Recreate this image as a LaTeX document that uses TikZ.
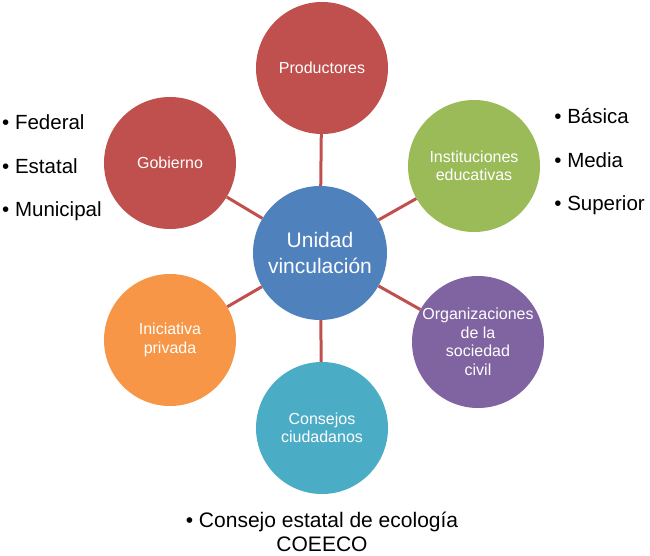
\documentclass[tikz,border=0pt]{standalone}
\usepackage{fontspec}
\setmainfont{Liberation Sans}
\usetikzlibrary{positioning, calc}
\definecolor{rojo}    {HTML}{C0504D}
\definecolor{verde}   {HTML}{9BBB59}
\definecolor{azul}    {HTML}{4F81BD}
\definecolor{morado}  {HTML}{8064A2}
\definecolor{turquesa}{HTML}{4BACC6}
\definecolor{naranja} {HTML}{F79646}

\begin{document}
\begin{tikzpicture}[x=1pt, y=-1pt,
    bubble/.style={circle, minimum size=132pt, inner sep=0pt, text=white, align=center,
      font=\fontsize{16}{18.5}\selectfont},
    spoke/.style={draw=rojo, line width=3pt},
    lista/.style={align=left, inner sep=0pt, font=\fontsize{20.5}{43.5}\selectfont}]
  \useasboundingbox (0,0) rectangle (650,556);
  \node[bubble, fill=azul, minimum size=134pt, font=\fontsize{21}{26}\selectfont] (uv) at (320,253) {Unidad\\vinculación};
  \node[bubble, fill=rojo] (prod) at (322,68) {Productores};
  \node[bubble, fill=rojo] (gob) at (170,163) {Gobierno};
  \node[bubble, fill=verde] (inst) at (474,166) {Instituciones\\educativas};
  \node[bubble, fill=naranja] (ini) at (170,340) {Iniciativa\\privada};
  \node[bubble, fill=morado] (org) at (478,342) {Organizaciones\\de la\\sociedad\\civil};
  \node[bubble, fill=turquesa] (cons) at (322,428) {Consejos\\ciudadanos};
  % radios
  \foreach \n in {prod, gob, inst, ini, org, cons}
    \draw[spoke] (uv) -- (\n);
  % listas
  \node[lista, anchor=west] (niveles) at (2,168) {• Federal\\• Estatal\\• Municipal};
  \node[lista, right=14pt of inst, yshift=4pt] (grados) {• Básica\\• Media\\• Superior};
  \node[align=center, inner sep=0pt, font=\fontsize{21}{24}\selectfont, below=18pt of cons] (coeeco)
    {• Consejo estatal de ecología\\COEECO};
\end{tikzpicture}
\end{document}
